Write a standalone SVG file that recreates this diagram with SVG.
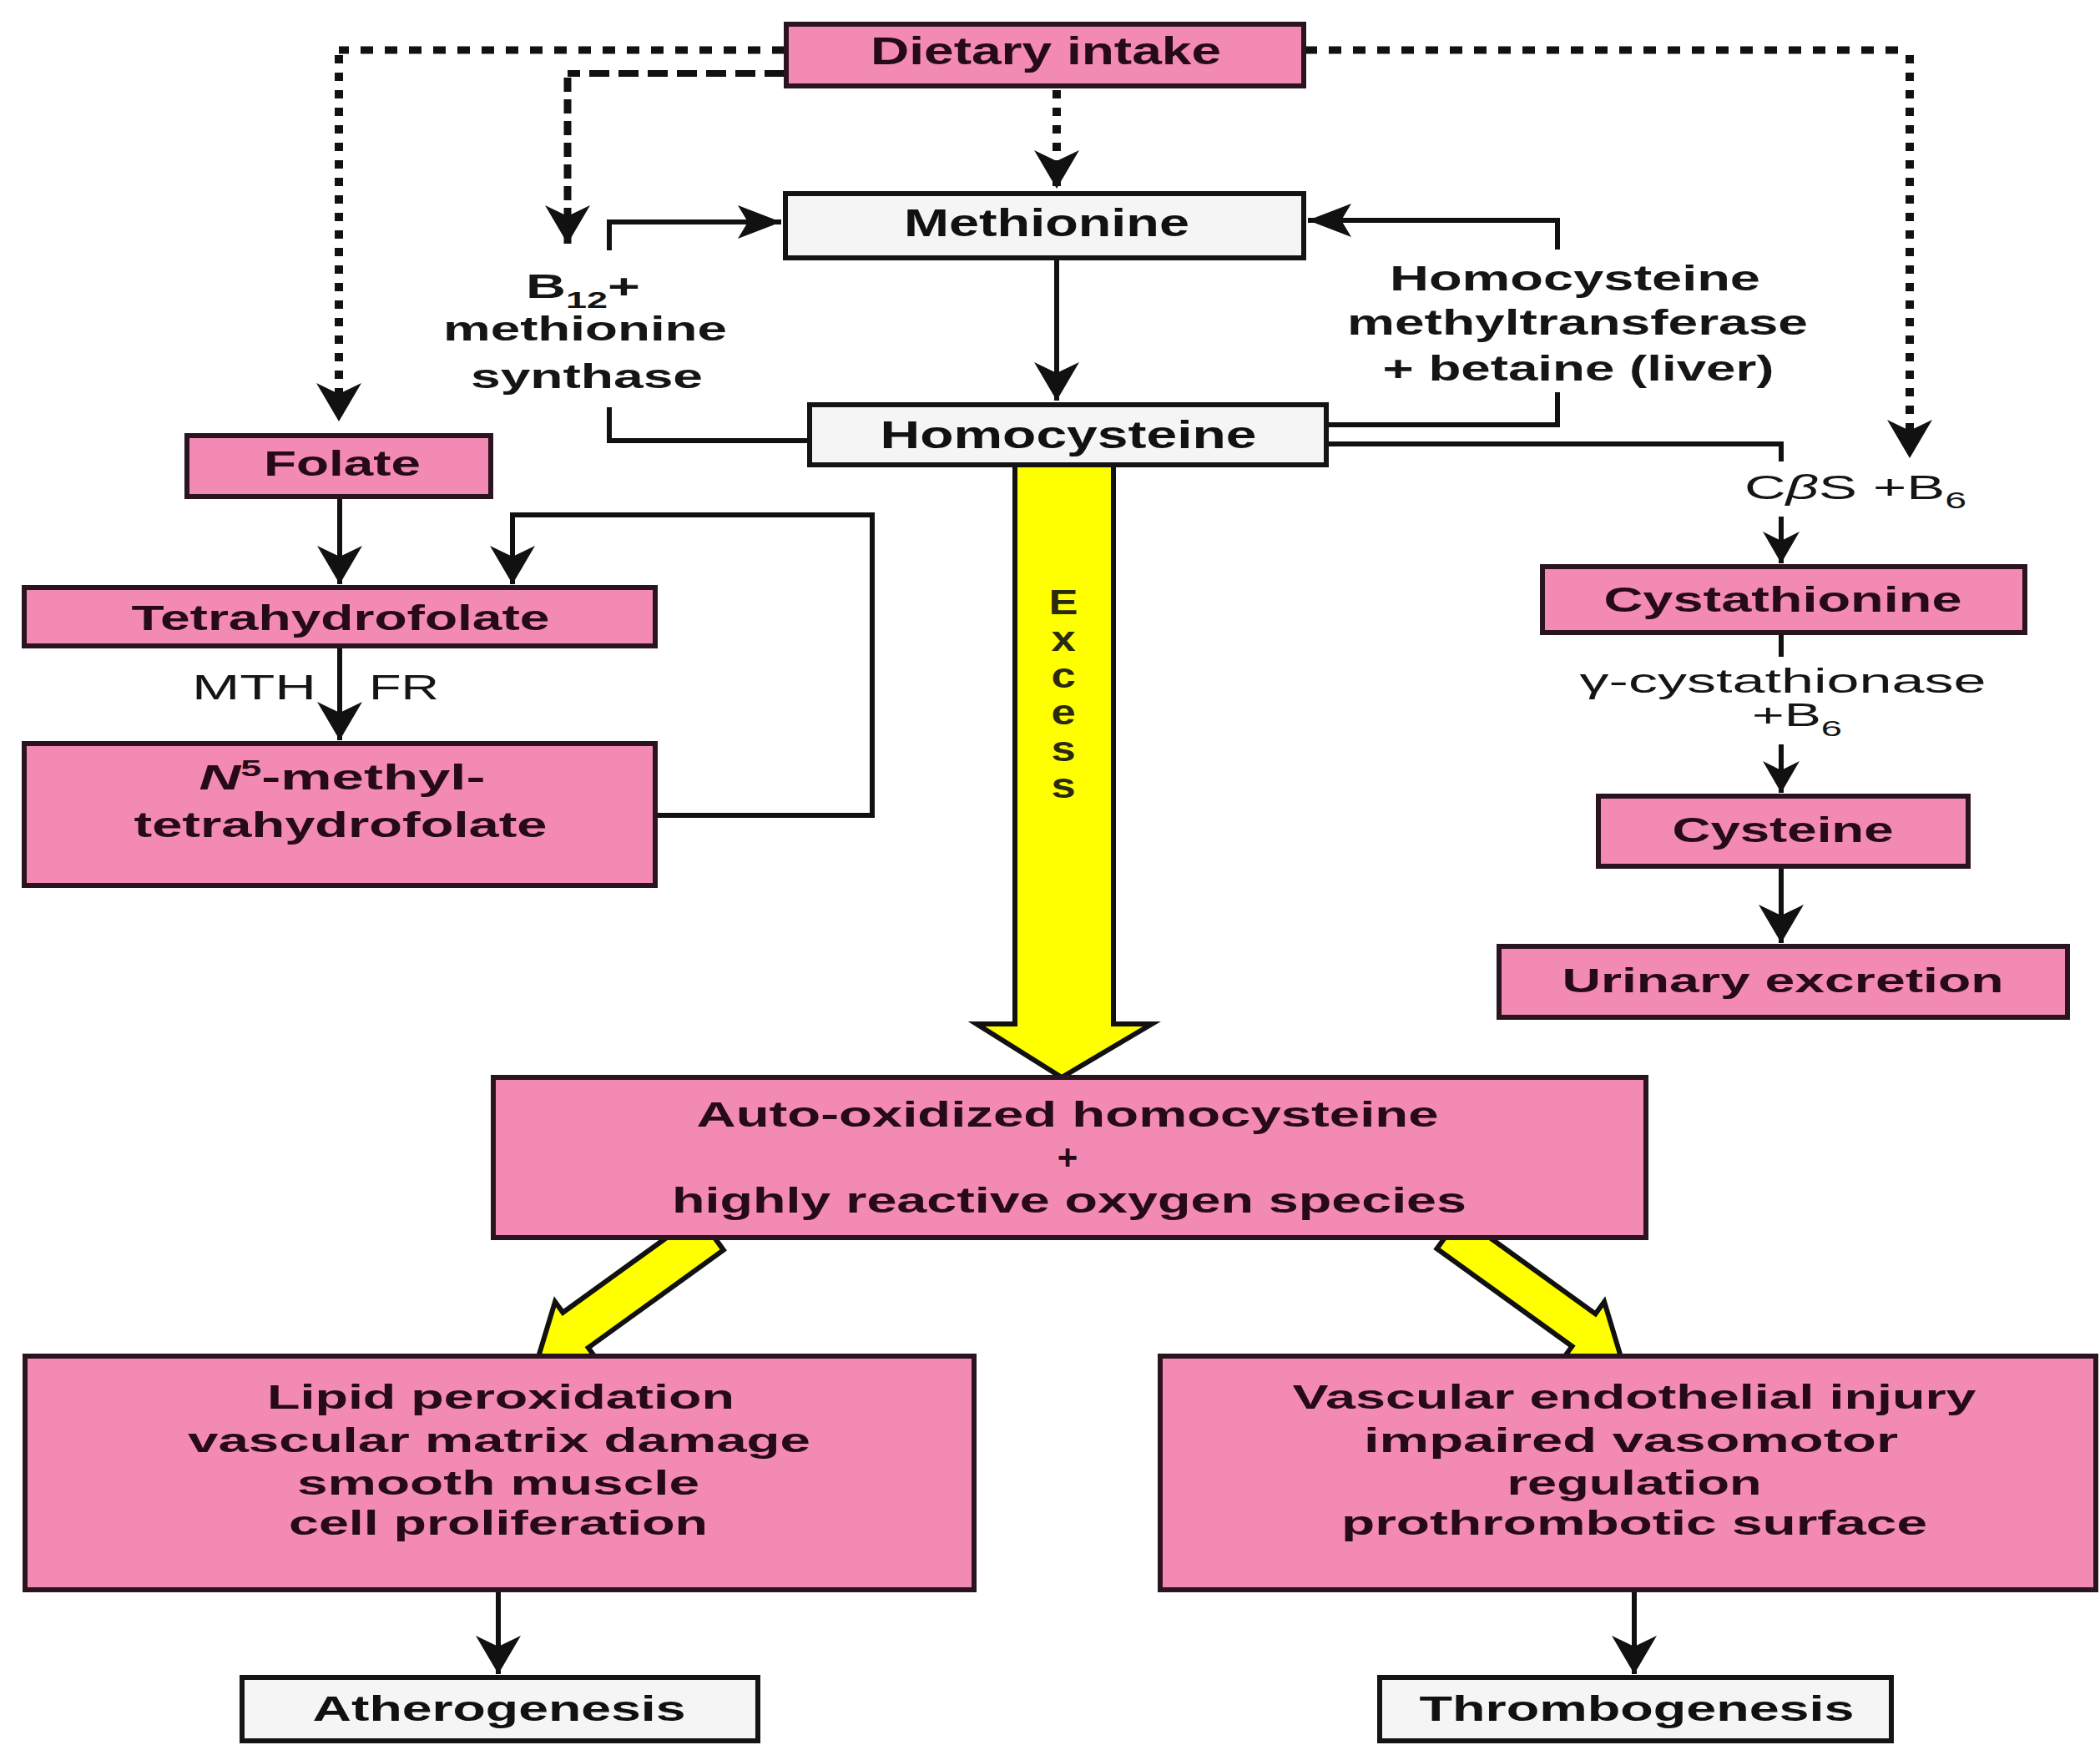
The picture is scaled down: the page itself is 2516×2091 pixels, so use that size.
<svg xmlns="http://www.w3.org/2000/svg" width="2516" height="2091" viewBox="0 0 2516 2091">
<style>
.pink{fill:#F28AB4;stroke:#2a1420;stroke-width:6}
.white{fill:#F5F5F5;stroke:#141414;stroke-width:6}
.t{font-family:"Liberation Sans",Arial,sans-serif;font-weight:bold;text-anchor:middle;fill:#260a18}
.tw{font-family:"Liberation Sans",Arial,sans-serif;font-weight:bold;text-anchor:middle;fill:#111}
.lb{font-family:"Liberation Sans",Arial,sans-serif;font-weight:bold;fill:#151515}
.lr{font-family:"Liberation Sans",Arial,sans-serif;font-weight:normal;fill:#151515}
.ln{fill:none;stroke:#111;stroke-width:6}
.dotH{fill:none;stroke:#111;stroke-width:9;stroke-dasharray:15 14}
.dotV{fill:none;stroke:#111;stroke-width:10;stroke-dasharray:10 11}
.dashH{fill:none;stroke:#111;stroke-width:8;stroke-dasharray:24 11}
.dashV{fill:none;stroke:#111;stroke-width:9;stroke-dasharray:17 9}
.yel{fill:#FFFF00;stroke:#111;stroke-width:6;stroke-linejoin:miter}
</style>
<defs>
<marker id="aV" markerUnits="userSpaceOnUse" viewBox="-50 -30 52 60" refX="0" refY="0" markerWidth="52" markerHeight="60" orient="auto">
<path d="M0,0 L-46,-27 L-33,0 L-46,27 Z" fill="#111"/>
</marker>
<marker id="aH" markerUnits="userSpaceOnUse" viewBox="-56 -24 58 48" refX="0" refY="0" markerWidth="58" markerHeight="48" orient="auto">
<path d="M0,0 L-52,-20 L-40,0 L-52,20 Z" fill="#111"/>
</marker>
<marker id="aS" markerUnits="userSpaceOnUse" viewBox="-42 -26 44 52" refX="0" refY="0" markerWidth="44" markerHeight="52" orient="auto">
<path d="M0,0 L-38,-22 L-27,0 L-38,22 Z" fill="#111"/>
</marker>
</defs>
<rect width="2516" height="2091" fill="#ffffff"/>

<g id="connectors">
<path class="dotH" d="M940,60 H406"/>
<path class="dotV" d="M406,66 V505" marker-end="url(#aV)"/>
<path class="dashH" d="M940,88 H680"/>
<path class="dashV" d="M680,93 V292" marker-end="url(#aV)"/>
<path class="dotV" d="M1266,108 V226" marker-end="url(#aV)"/>
<path class="dotH" d="M1563,60 H2288"/>
<path class="dotV" d="M2288,66 V549" marker-end="url(#aV)"/>
<path class="ln" d="M730,300 V266 H936" marker-end="url(#aH)"/>
<path class="ln" d="M1866,299 V264 H1567" marker-end="url(#aH)"/>
<path class="ln" d="M1266,310 V480" marker-end="url(#aV)"/>
<path class="ln" d="M968,528 H730 V488"/>
<path class="ln" d="M1590,509 H1866 V470"/>
<path class="ln" d="M1590,532 H2134 V553"/>
<path class="ln" d="M2134,619 V675" marker-end="url(#aS)"/>
<path class="ln" d="M2134,759 V787"/>
<path class="ln" d="M2134,892 V950" marker-end="url(#aS)"/>
<path class="ln" d="M2134,1039 V1130" marker-end="url(#aV)"/>
<path class="ln" d="M407,596 V700" marker-end="url(#aV)"/>
<path class="ln" d="M786,977 H1045 V617 H614 V700" marker-end="url(#aV)"/>
<path class="ln" d="M407,775 V887" marker-end="url(#aV)"/>
<path class="ln" d="M597,1906 V2006" marker-end="url(#aV)"/>
<path class="ln" d="M1958,1906 V2006" marker-end="url(#aV)"/>
<path class="yel" d="M1216,555 L1216,1227 L1170,1227 L1272,1291 L1380,1227 L1334,1227 L1334,555 Z"/>
<path class="yel" d="M836.4,1455.7 L674.4,1572.7 L665,1559.8 L645,1626 L714.2,1627.8 L704.8,1614.9 L866.8,1497.9 Z"/>
<path class="yel" d="M1749.5,1457.4 L1911.5,1574.4 L1922.1,1559.8 L1942,1626 L1872.9,1627.8 L1883.5,1613.2 L1721.5,1496.2 Z"/>
</g>

<g id="dietary">
<rect class="pink" x="942" y="29" width="620" height="74"/>
<text class="t" x="1253" y="77" font-size="46" textLength="420" lengthAdjust="spacingAndGlyphs">Dietary intake</text>
</g>
<g id="methionine">
<rect class="white" x="941" y="232" width="621" height="77"/>
<text class="tw" x="1254" y="283" font-size="47" textLength="342" lengthAdjust="spacingAndGlyphs">Methionine</text>
</g>
<g id="homocysteine">
<rect class="white" x="970" y="485" width="619" height="72"/>
<text class="tw" x="1280" y="537" font-size="46" textLength="451" lengthAdjust="spacingAndGlyphs">Homocysteine</text>
</g>
<g id="b12-label">
<text class="lb" x="630" y="357" font-size="40" textLength="137" lengthAdjust="spacingAndGlyphs">B<tspan dy="12" font-size="27">12</tspan><tspan dy="-12">+</tspan></text>
<text class="lb" x="701" y="408" font-size="40" text-anchor="middle" textLength="340" lengthAdjust="spacingAndGlyphs">methionine</text>
<text class="lb" x="703" y="465" font-size="40" text-anchor="middle" textLength="278" lengthAdjust="spacingAndGlyphs">synthase</text>
</g>
<g id="hmt-label">
<text class="lb" x="1887" y="348" font-size="42" text-anchor="middle" textLength="444" lengthAdjust="spacingAndGlyphs">Homocysteine</text>
<text class="lb" x="1890" y="401" font-size="42" text-anchor="middle" textLength="552" lengthAdjust="spacingAndGlyphs">methyltransferase</text>
<text class="lb" x="1891" y="456" font-size="42" text-anchor="middle" textLength="469" lengthAdjust="spacingAndGlyphs">+ betaine (liver)</text>
</g>
<g id="cbs-label">
<text class="lr" x="2090" y="598" font-size="40" textLength="266" lengthAdjust="spacingAndGlyphs">C<tspan font-style="italic">β</tspan>S +B<tspan dy="11" font-size="27">6</tspan></text>
</g>
<g id="cystathionine">
<rect class="pink" x="1848" y="679" width="578" height="79"/>
<text class="t" x="2136" y="733" font-size="43" textLength="429" lengthAdjust="spacingAndGlyphs">Cystathionine</text>
</g>
<g id="gamma-label">
<text class="lr" x="2136" y="830" font-size="40" text-anchor="middle" textLength="487" lengthAdjust="spacingAndGlyphs">γ-cystathionase</text>
<text class="lr" x="2099" y="870" font-size="38" textLength="108" lengthAdjust="spacingAndGlyphs">+B<tspan dy="12" font-size="26">6</tspan></text>
</g>
<g id="cysteine">
<rect class="pink" x="1915" y="954" width="443" height="84"/>
<text class="t" x="2136" y="1009" font-size="42" textLength="265" lengthAdjust="spacingAndGlyphs">Cysteine</text>
</g>
<g id="urinary">
<rect class="pink" x="1796" y="1134" width="681" height="85"/>
<text class="t" x="2136" y="1189" font-size="41" textLength="529" lengthAdjust="spacingAndGlyphs">Urinary excretion</text>
</g>
<g id="folate">
<rect class="pink" x="224" y="522" width="364" height="73"/>
<text class="t" x="410" y="570" font-size="42" textLength="188" lengthAdjust="spacingAndGlyphs">Folate</text>
</g>
<g id="thf">
<rect class="pink" x="29" y="704" width="756" height="70"/>
<text class="t" x="408" y="755" font-size="42" textLength="501" lengthAdjust="spacingAndGlyphs">Tetrahydrofolate</text>
</g>
<g id="mthfr-label">
<text class="lr" x="230" y="838" font-size="43" textLength="149" lengthAdjust="spacingAndGlyphs">MTH</text>
<text class="lr" x="442" y="838" font-size="43" textLength="84" lengthAdjust="spacingAndGlyphs">FR</text>
</g>
<g id="n5">
<rect class="pink" x="29" y="891" width="756" height="170"/>
<text class="t" x="410" y="946" font-size="43" textLength="343" lengthAdjust="spacingAndGlyphs"><tspan font-style="italic">N</tspan><tspan dy="-16" font-size="28">5</tspan><tspan dy="16">-methyl-</tspan></text>
<text class="t" x="408" y="1003" font-size="43" textLength="495" lengthAdjust="spacingAndGlyphs">tetrahydrofolate</text>
</g>
<g id="excess">
<text class="lr" font-size="42" text-anchor="middle" transform="translate(1274,0) scale(1.25,1)" style="font-weight:bold;fill:#2a2a10"><tspan x="0" y="736">E</tspan><tspan x="0" y="780">x</tspan><tspan x="0" y="824">c</tspan><tspan x="0" y="868">e</tspan><tspan x="0" y="912">s</tspan><tspan x="0" y="956">s</tspan></text>
</g>
<g id="auto-oxidized">
<rect class="pink" x="591" y="1291" width="1381" height="192"/>
<text class="t" x="1279" y="1350" font-size="42" textLength="889" lengthAdjust="spacingAndGlyphs">Auto-oxidized homocysteine</text>
<text class="t" x="1279" y="1401" font-size="42">+</text>
<text class="t" x="1281" y="1453" font-size="42" textLength="952" lengthAdjust="spacingAndGlyphs">highly reactive oxygen species</text>
</g>
<g id="lipid">
<rect class="pink" x="30" y="1625" width="1137" height="280"/>
<text class="t" x="600" y="1688" font-size="40" textLength="560" lengthAdjust="spacingAndGlyphs">Lipid peroxidation</text>
<text class="t" x="598" y="1740" font-size="40" textLength="746" lengthAdjust="spacingAndGlyphs">vascular matrix damage</text>
<text class="t" x="597" y="1791" font-size="40" textLength="482" lengthAdjust="spacingAndGlyphs">smooth muscle</text>
<text class="t" x="597" y="1839" font-size="40" textLength="502" lengthAdjust="spacingAndGlyphs">cell proliferation</text>
</g>
<g id="vascular">
<rect class="pink" x="1390" y="1625" width="1121" height="280"/>
<text class="t" x="1958" y="1688" font-size="40" textLength="819" lengthAdjust="spacingAndGlyphs">Vascular endothelial injury</text>
<text class="t" x="1954" y="1740" font-size="40" textLength="640" lengthAdjust="spacingAndGlyphs">impaired vasomotor</text>
<text class="t" x="1958" y="1791" font-size="40" textLength="305" lengthAdjust="spacingAndGlyphs">regulation</text>
<text class="t" x="1958" y="1839" font-size="40" textLength="702" lengthAdjust="spacingAndGlyphs">prothrombotic surface</text>
</g>
<g id="atherogenesis">
<rect class="white" x="290" y="2010" width="618" height="76"/>
<text class="tw" x="598" y="2062" font-size="42" textLength="447" lengthAdjust="spacingAndGlyphs">Atherogenesis</text>
</g>
<g id="thrombogenesis">
<rect class="white" x="1653" y="2010" width="613" height="76"/>
<text class="tw" x="1961" y="2062" font-size="42" textLength="521" lengthAdjust="spacingAndGlyphs">Thrombogenesis</text>
</g>
</svg>
